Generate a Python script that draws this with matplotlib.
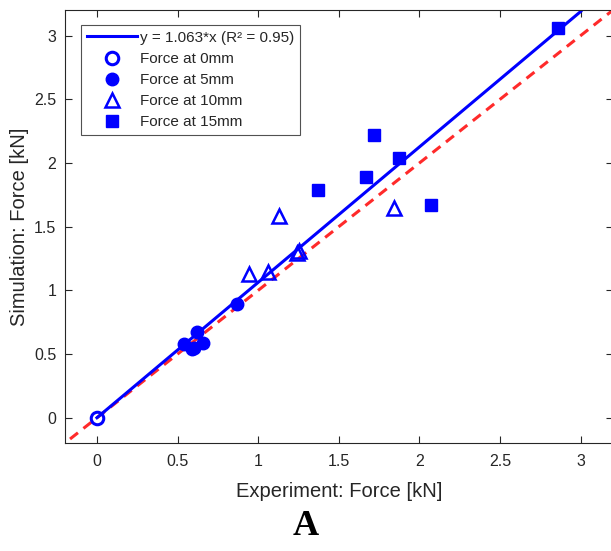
#!/usr/bin/env python3
import matplotlib
matplotlib.use("Agg")
import matplotlib.pyplot as plt

plt.rcParams["font.family"] = ["Liberation Sans", "DejaVu Sans"]

# data
exp_0mm = [0.0]
sim_0mm = [0.0]
exp_5mm = [0.54, 0.59, 0.60, 0.62, 0.66, 0.87]
sim_5mm = [0.58, 0.54, 0.55, 0.67, 0.59, 0.89]
exp_10mm = [0.94, 1.06, 1.13, 1.24, 1.25, 1.84]
sim_10mm = [1.13, 1.14, 1.58, 1.29, 1.31, 1.65]
exp_15mm = [1.37, 1.67, 1.72, 1.87, 2.07, 2.86]
sim_15mm = [1.79, 1.89, 2.22, 2.04, 1.67, 3.06]
slope = 1.063
r2 = 0.95
fit_x = [0.0, 3.0]
ticks = [0, 0.5, 1, 1.5, 2, 2.5, 3]

blue = "#0000ff"
red = "#ff2a2a"
dark = "#262626"

fig = plt.figure(figsize=(6.11, 5.51), dpi=100)
# right spine falls just outside the picture, as in the reference
ax = fig.add_axes([0.1059, 0.1956, 0.8974, 0.7862])

ax.plot([-0.5, 3.5], [-0.5, 3.5], "--", color=red, lw=2.2, dashes=(3.3, 2.3), zorder=1)
fit_y = [slope * v for v in fit_x]
ax.plot(fit_x, fit_y, "-", color=blue, lw=2.2,
        label=f"y = {slope}*x (R\u00b2 = {r2})", zorder=2)

ax.plot(exp_0mm, sim_0mm, "o", ms=9, mfc="none", mec=blue, mew=2.2,
        label="Force at 0mm", zorder=3)
ax.plot(exp_5mm, sim_5mm, "o", ms=9, mfc=blue, mec=blue,
        label="Force at 5mm", zorder=3)
ax.plot(exp_10mm, sim_10mm, "^", ms=10, mfc="none", mec=blue, mew=1.8,
        label="Force at 10mm", zorder=3)
ax.plot(exp_15mm, sim_15mm, "s", ms=9, mfc=blue, mec=blue,
        label="Force at 15mm", zorder=3)

ax.set_xlim(-0.2, 3.2)
ax.set_ylim(-0.2, 3.2)
ax.set_xticks(ticks)
ax.set_yticks(ticks)
ax.set_xticklabels([f"{t:g}" for t in ticks])
ax.set_yticklabels([f"{t:g}" for t in ticks])
ax.tick_params(direction="in", top=True, right=True, labelsize=11.5,
               colors=dark, length=5, width=0.8)
ax.tick_params(axis="x", pad=8)
ax.tick_params(axis="y", pad=6)
for s in ax.spines.values():
    s.set_color(dark)
    s.set_linewidth(0.8)

ax.set_xlabel("Experiment: Force [kN]", fontsize=14.5, color=dark, labelpad=9)
ax.set_ylabel("Simulation: Force [kN]", fontsize=14.5, color=dark, labelpad=4)

leg = ax.legend(loc="upper left", bbox_to_anchor=(0.0297, 0.9654), fontsize=11,
                frameon=True, fancybox=False, edgecolor=dark,
                handlelength=3.3, handletextpad=0.2, borderpad=0.38,
                labelspacing=0.46, borderaxespad=0)
leg.get_frame().set_linewidth(0.8)
for t in leg.get_texts():
    t.set_color(dark)

fig.text(0.5, 0.045, "A", ha="center", va="center", fontsize=26,
         fontweight="bold", family=["Liberation Serif", "DejaVu Serif"])

fig.savefig("out.png", dpi=100)
